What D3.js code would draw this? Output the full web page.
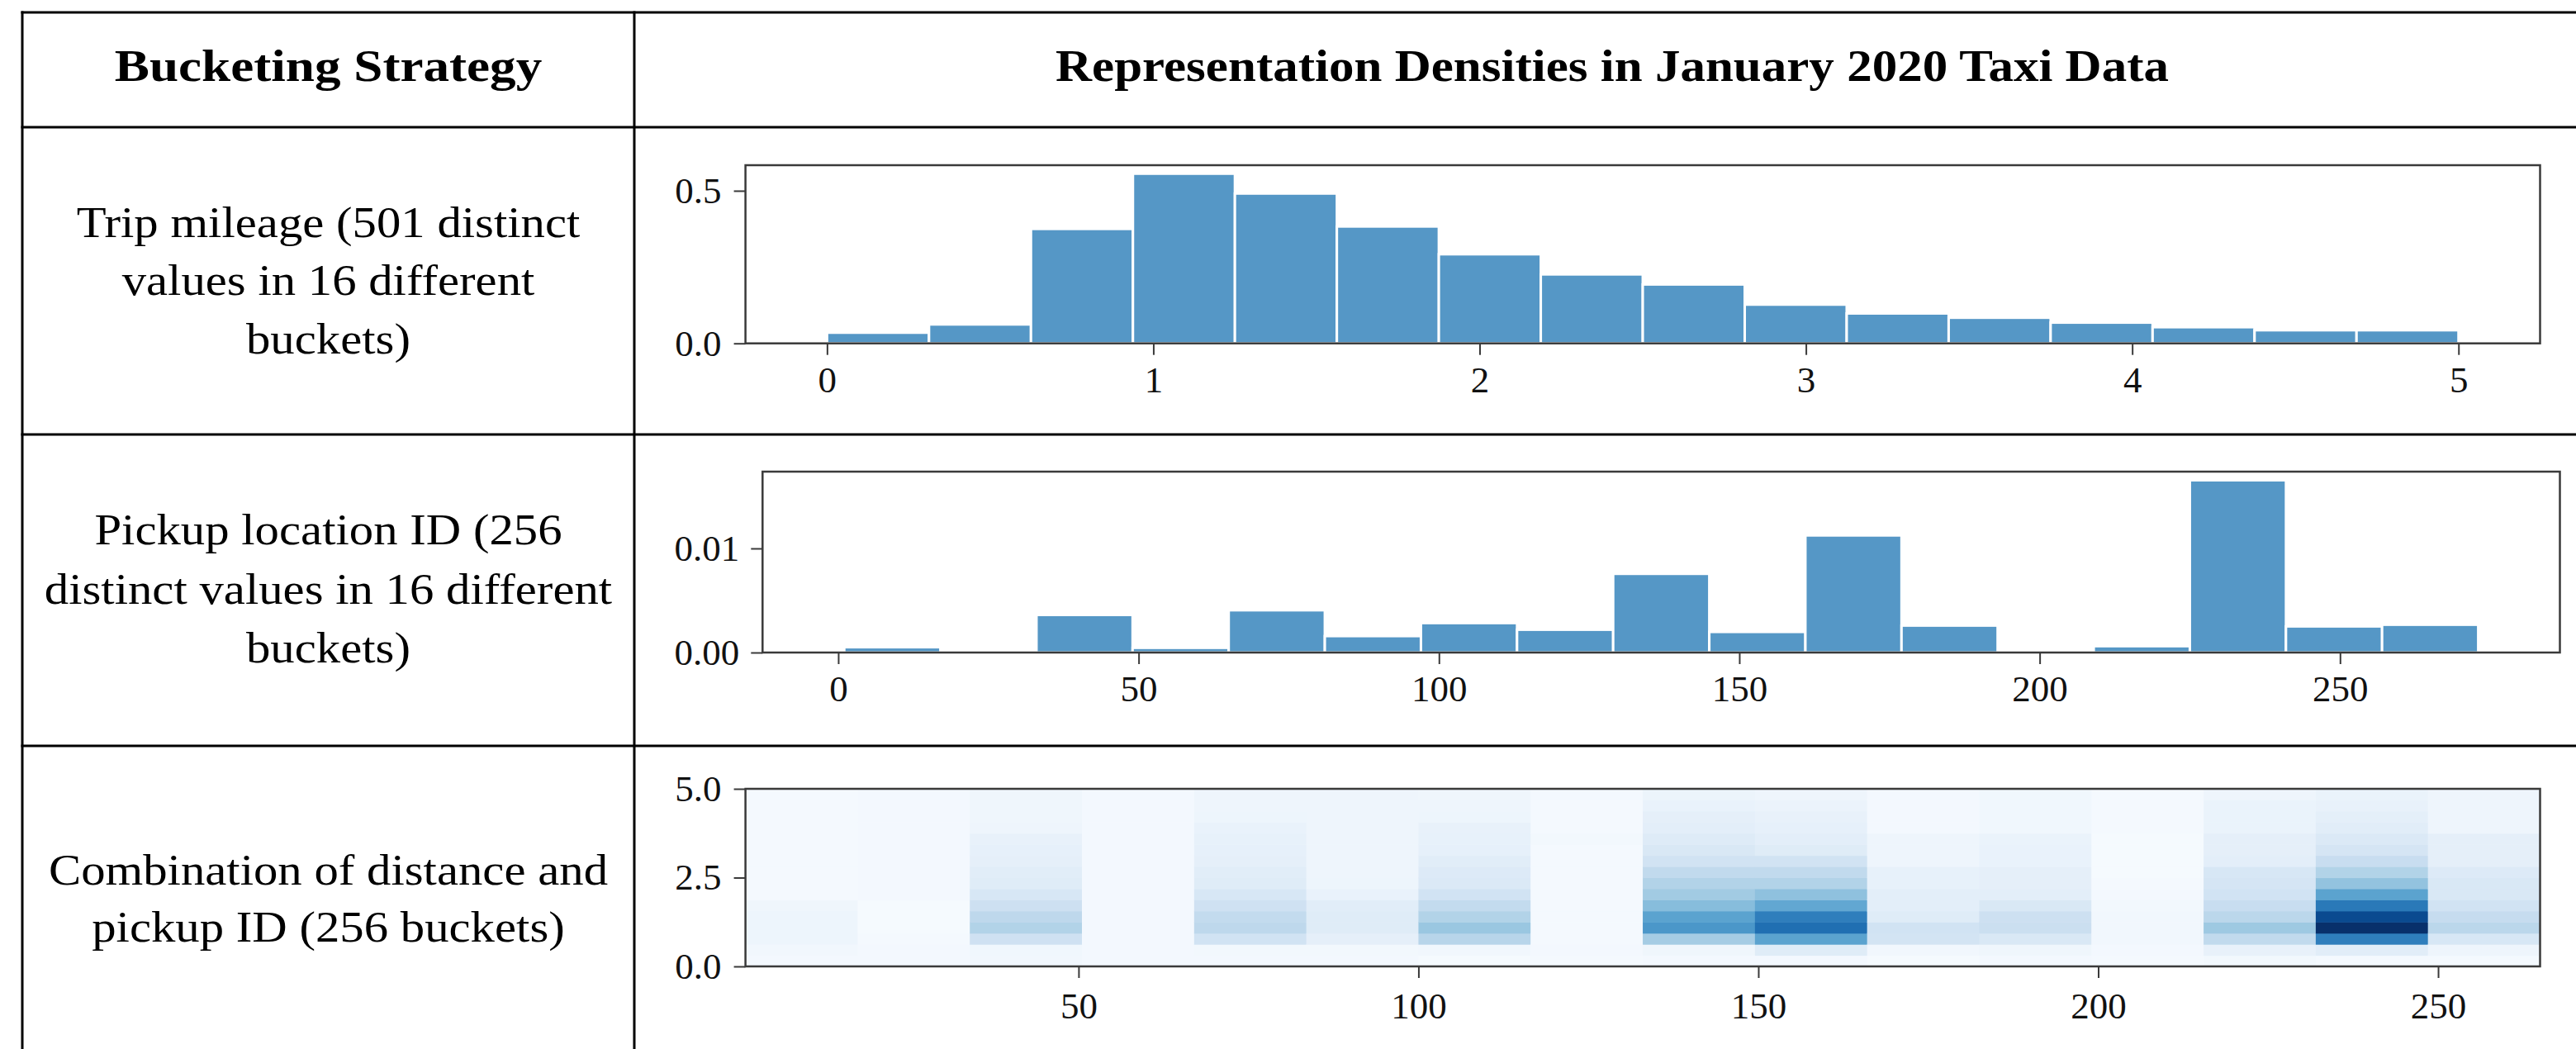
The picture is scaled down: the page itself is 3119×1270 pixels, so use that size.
<!DOCTYPE html>
<html>
<head>
<meta charset="utf-8">
<script src="https://cdn.jsdelivr.net/npm/d3@7"></script>
<style>
  html, body { margin: 0; padding: 0; background: #ffffff; }
  svg { display: block; }
</style>
</head>
<body>
<svg id="fig" width="3119" height="1270"></svg>
<script>
// ---------------------------------------------------------------
// Data: January 2020 taxi trips, three bucketing strategies
// ---------------------------------------------------------------

// Trip mileage histogram (density), 16 buckets between 0 and 5 miles
const mileageEdges = [0, 0.3125, 0.625, 0.9375, 1.25, 1.5625, 1.875, 2.1875, 2.5,
                      2.8125, 3.125, 3.4375, 3.75, 4.0625, 4.375, 4.6875, 5];
const mileageDensity = [0.035, 0.062, 0.375, 0.556, 0.491, 0.383, 0.292, 0.226,
                        0.193, 0.127, 0.098, 0.084, 0.068, 0.053, 0.043, 0.043];

// Pickup location ID histogram (density), buckets of 16 IDs
const pickupEdges = [1, 17, 33, 49, 65, 81, 97, 113, 129, 145, 161, 177, 193, 209,
                     225, 241, 257, 273];
const pickupDensity = [0.00051, 0, 0.00361, 0.00045, 0.00406, 0.00158, 0.00283,
                       0.00219, 0.00756, 0.00198, 0.01125, 0.00259, 0, 0.00061,
                       0.01655, 0.00251, 0.00267];

// Combined distance x pickup buckets (relative density)
const comboPickupEdges = [1, 17.5, 34, 50.5, 67, 83.5, 100, 116.5, 133, 149.5, 166,
                          182.5, 199, 215.5, 232, 248.5, 265];
const comboDistanceEdges = [0, 0.3125, 0.625, 0.9375, 1.25, 1.5625, 1.875, 2.1875, 2.5,
                            2.8125, 3.125, 3.4375, 3.75, 4.0625, 4.375, 4.6875, 5];
// one inner list per pickup bucket, distance buckets from shortest to longest
const comboDensity = [
  [0.02, 0.03, 0.05, 0.05, 0.05, 0.04, 0.015, 0.015, 0.015, 0.015, 0.015, 0.015, 0.015, 0.015, 0.015, 0.015],
  [0.02, 0.02, 0.015, 0.01, 0.01, 0.01, 0.02, 0.02, 0.02, 0.02, 0.02, 0.02, 0.02, 0.02, 0.02, 0.02],
  [0.03, 0.035, 0.2, 0.31, 0.27, 0.21, 0.16, 0.12, 0.11, 0.09, 0.085, 0.075, 0.045, 0.04, 0.04, 0.04],
  [0.02, 0.02, 0.02, 0.02, 0.02, 0.02, 0.02, 0.02, 0.02, 0.02, 0.02, 0.02, 0.02, 0.02, 0.02, 0.02],
  [0.02, 0.025, 0.19, 0.27, 0.25, 0.2, 0.16, 0.12, 0.11, 0.09, 0.085, 0.08, 0.07, 0.05, 0.045, 0.045],
  [0.02, 0.025, 0.09, 0.12, 0.12, 0.11, 0.07, 0.05, 0.045, 0.045, 0.045, 0.045, 0.045, 0.045, 0.045, 0.045],
  [0.01, 0.03, 0.29, 0.38, 0.31, 0.25, 0.19, 0.14, 0.13, 0.11, 0.085, 0.08, 0.075, 0.05, 0.045, 0.04],
  [0.015, 0.02, 0.015, 0.015, 0.015, 0.015, 0.015, 0.015, 0.015, 0.015, 0.015, 0.025, 0.015, 0.015, 0.015, 0.02],
  [0.02, 0.04, 0.35, 0.6, 0.55, 0.43, 0.36, 0.31, 0.26, 0.19, 0.15, 0.125, 0.1, 0.09, 0.07, 0.055],
  [0.02, 0.12, 0.55, 0.76, 0.7, 0.53, 0.41, 0.31, 0.26, 0.19, 0.12, 0.1, 0.085, 0.075, 0.06, 0.045],
  [0.01, 0.03, 0.18, 0.19, 0.12, 0.1, 0.1, 0.08, 0.08, 0.045, 0.045, 0.045, 0.02, 0.02, 0.02, 0.02],
  [0.02, 0.04, 0.15, 0.22, 0.21, 0.15, 0.1, 0.09, 0.09, 0.07, 0.07, 0.065, 0.035, 0.035, 0.035, 0.035],
  [0.015, 0.02, 0.03, 0.03, 0.03, 0.025, 0.02, 0.015, 0.01, 0.01, 0.01, 0.01, 0.015, 0.015, 0.015, 0.015],
  [0.025, 0.075, 0.26, 0.37, 0.28, 0.23, 0.19, 0.17, 0.16, 0.1, 0.09, 0.09, 0.065, 0.065, 0.065, 0.045],
  [0.015, 0.11, 0.7, 1.0, 0.9, 0.72, 0.55, 0.4, 0.31, 0.23, 0.17, 0.14, 0.11, 0.095, 0.075, 0.065],
  [0.015, 0.045, 0.16, 0.28, 0.24, 0.19, 0.15, 0.15, 0.13, 0.09, 0.09, 0.09, 0.045, 0.045, 0.045, 0.045]
];

// Tick values
const mileageXTicks = [0, 1, 2, 3, 4, 5];
const mileageYTicks = [0, 0.5];
const pickupXTicks = [0, 50, 100, 150, 200, 250];
const pickupYTicks = [0, 0.01];
const comboXTicks = [50, 100, 150, 200, 250];
const comboYTicks = [0, 2.5, 5];

// Table text
const headerLabels = ["Bucketing Strategy", "Representation Densities in January 2020 Taxi Data"];
const strategyLabels = [
  ["Trip mileage (501 distinct", "values in 16 different", "buckets)"],
  ["Pickup location ID (256", "distinct values in 16 different", "buckets)"],
  ["Combination of distance and", "pickup ID (256 buckets)"]
];

// ---------------------------------------------------------------
// Drawing
// ---------------------------------------------------------------
const svg = d3.select("#fig");
const SERIF = "'Liberation Serif', 'Times New Roman', serif";
const BAR_FILL = "#5597c6";
const SPINE = "#3a3a3a";

// table geometry
const T = { left: 27, split: 768, right: 3119, top: 15, head: 154, rowLines: [526, 903], bottom: 1270 };

// horizontally widened text, centred on x with baseline y
function wideText(x, y, str, size, weight, sx) {
  svg.append("text")
    .attr("transform", `translate(${x},${y}) scale(${sx},1)`)
    .attr("text-anchor", "middle")
    .style("font-family", SERIF)
    .style("font-size", size + "px")
    .style("font-weight", weight)
    .attr("fill", "#000")
    .text(str);
}

// --- table rules
const rules = svg.append("g").attr("stroke", "#000").attr("fill", "none");
[T.top, T.head, ...T.rowLines].forEach(y => {
  rules.append("line").attr("x1", T.left - 1.5).attr("x2", T.right).attr("y1", y).attr("y2", y)
    .attr("stroke-width", 3);
});
[T.left, T.split].forEach(x => {
  rules.append("line").attr("x1", x).attr("x2", x).attr("y1", T.top - 1.5).attr("y2", T.bottom)
    .attr("stroke-width", 3);
});

// --- header row
const leftCenter = (T.left + T.split) / 2;
wideText(leftCenter, 98, headerLabels[0], 54, "bold", 1.17);
wideText(1952, 98, headerLabels[1], 54, "bold", 1.13);

// --- strategy descriptions
const labelBaselines = [[287, 357, 428], [659, 731, 802], [1071, 1140]];
strategyLabels.forEach((lines, i) => {
  lines.forEach((s, j) => wideText(leftCenter, labelBaselines[i][j], s, 52, "normal", 1.13));
});

// --- generic axes frame
function styleAxis(g, fontSize) {
  g.select(".domain").remove();
  g.selectAll(".tick line").attr("stroke", SPINE).attr("stroke-width", 2);
  g.selectAll(".tick text")
    .style("font-family", SERIF)
    .style("font-size", fontSize + "px")
    .attr("fill", "#111");
}

function panel(box, xDomain, yDomain, xTicks, yTicks, yFmt, xPad, yPad) {
  const x = d3.scaleLinear().domain(xDomain).range([box.x0, box.x1]);
  const y = d3.scaleLinear().domain(yDomain).range([box.y1, box.y0]);
  const g = svg.append("g");
  const clipId = "clip" + Math.round(box.y0);
  svg.append("clipPath").attr("id", clipId).append("rect")
    .attr("x", box.x0).attr("y", box.y0).attr("width", box.x1 - box.x0).attr("height", box.y1 - box.y0);
  const plot = g.append("g").attr("clip-path", `url(#${clipId})`);

  const gx = g.append("g").attr("transform", `translate(0,${box.y1})`)
    .call(d3.axisBottom(x).tickValues(xTicks).tickSize(14).tickPadding(xPad).tickFormat(d3.format("d")));
  styleAxis(gx, 45);
  const gy = g.append("g").attr("transform", `translate(${box.x0},0)`)
    .call(d3.axisLeft(y).tickValues(yTicks).tickSize(14).tickPadding(yPad).tickFormat(yFmt));
  styleAxis(gy, 45);

  const frame = g.append("rect")
    .attr("x", box.x0).attr("y", box.y0)
    .attr("width", box.x1 - box.x0).attr("height", box.y1 - box.y0)
    .attr("fill", "none").attr("stroke", SPINE).attr("stroke-width", 2.5);
  return { x, y, plot, frame };
}

function histogram(p, edges, values) {
  p.plot.selectAll("rect.bar")
    .data(values.map((v, i) => ({ v, a: edges[i], b: edges[i + 1] })).filter(d => d.v > 0))
    .join("rect")
    .attr("class", "bar")
    .attr("x", d => p.x(d.a))
    .attr("width", d => p.x(d.b) - p.x(d.a))
    .attr("y", d => p.y(d.v))
    .attr("height", d => p.y(0) - p.y(d.v))
    .attr("fill", BAR_FILL)
    .attr("stroke", "#ffffff")
    .attr("stroke-width", 3);
  p.frame.raise();
}

// 1) trip mileage
const mPad = 0.05 * (mileageEdges[mileageEdges.length - 1] - mileageEdges[0]);
const p1 = panel({ x0: 902.6, x1: 3075.5, y0: 200, y1: 415.7 },
  [mileageEdges[0] - mPad, mileageEdges[mileageEdges.length - 1] + mPad],
  [0, d3.max(mileageDensity) * 1.05],
  mileageXTicks, mileageYTicks, d3.format(".1f"), 13, 15);
histogram(p1, mileageEdges, mileageDensity);

// 2) pickup location ID
const pPad = 0.05 * (pickupEdges[pickupEdges.length - 1] - pickupEdges[0]);
const p2 = panel({ x0: 923.3, x1: 3099.5, y0: 571, y1: 790 },
  [pickupEdges[0] - pPad, pickupEdges[pickupEdges.length - 1] + pPad],
  [0, d3.max(pickupDensity) * 1.05],
  pickupXTicks, pickupYTicks, d3.format(".2f"), 13, 14);
histogram(p2, pickupEdges, pickupDensity);

// 3) combined buckets as a heat map
const p3 = panel({ x0: 902.6, x1: 3075.5, y0: 955, y1: 1170 },
  [comboPickupEdges[0], comboPickupEdges[comboPickupEdges.length - 1]],
  [comboDistanceEdges[0], comboDistanceEdges[comboDistanceEdges.length - 1]],
  comboXTicks, comboYTicks, d3.format(".1f"), 17, 15);
const color = d3.scaleSequential(d3.interpolateBlues)
  .domain([0, d3.max(comboDensity.flat())]);
const cells = [];
comboDensity.forEach((col, i) => col.forEach((v, j) => cells.push({ i, j, v })));
p3.plot.selectAll("rect.cell")
  .data(cells)
  .join("rect")
  .attr("class", "cell")
  .attr("x", d => p3.x(comboPickupEdges[d.i]))
  .attr("width", d => p3.x(comboPickupEdges[d.i + 1]) - p3.x(comboPickupEdges[d.i]) + 0.6)
  .attr("y", d => p3.y(comboDistanceEdges[d.j + 1]))
  .attr("height", d => p3.y(comboDistanceEdges[d.j]) - p3.y(comboDistanceEdges[d.j + 1]) + 0.6)
  .attr("fill", d => color(d.v));
p3.frame.raise();
</script>
</body>
</html>
